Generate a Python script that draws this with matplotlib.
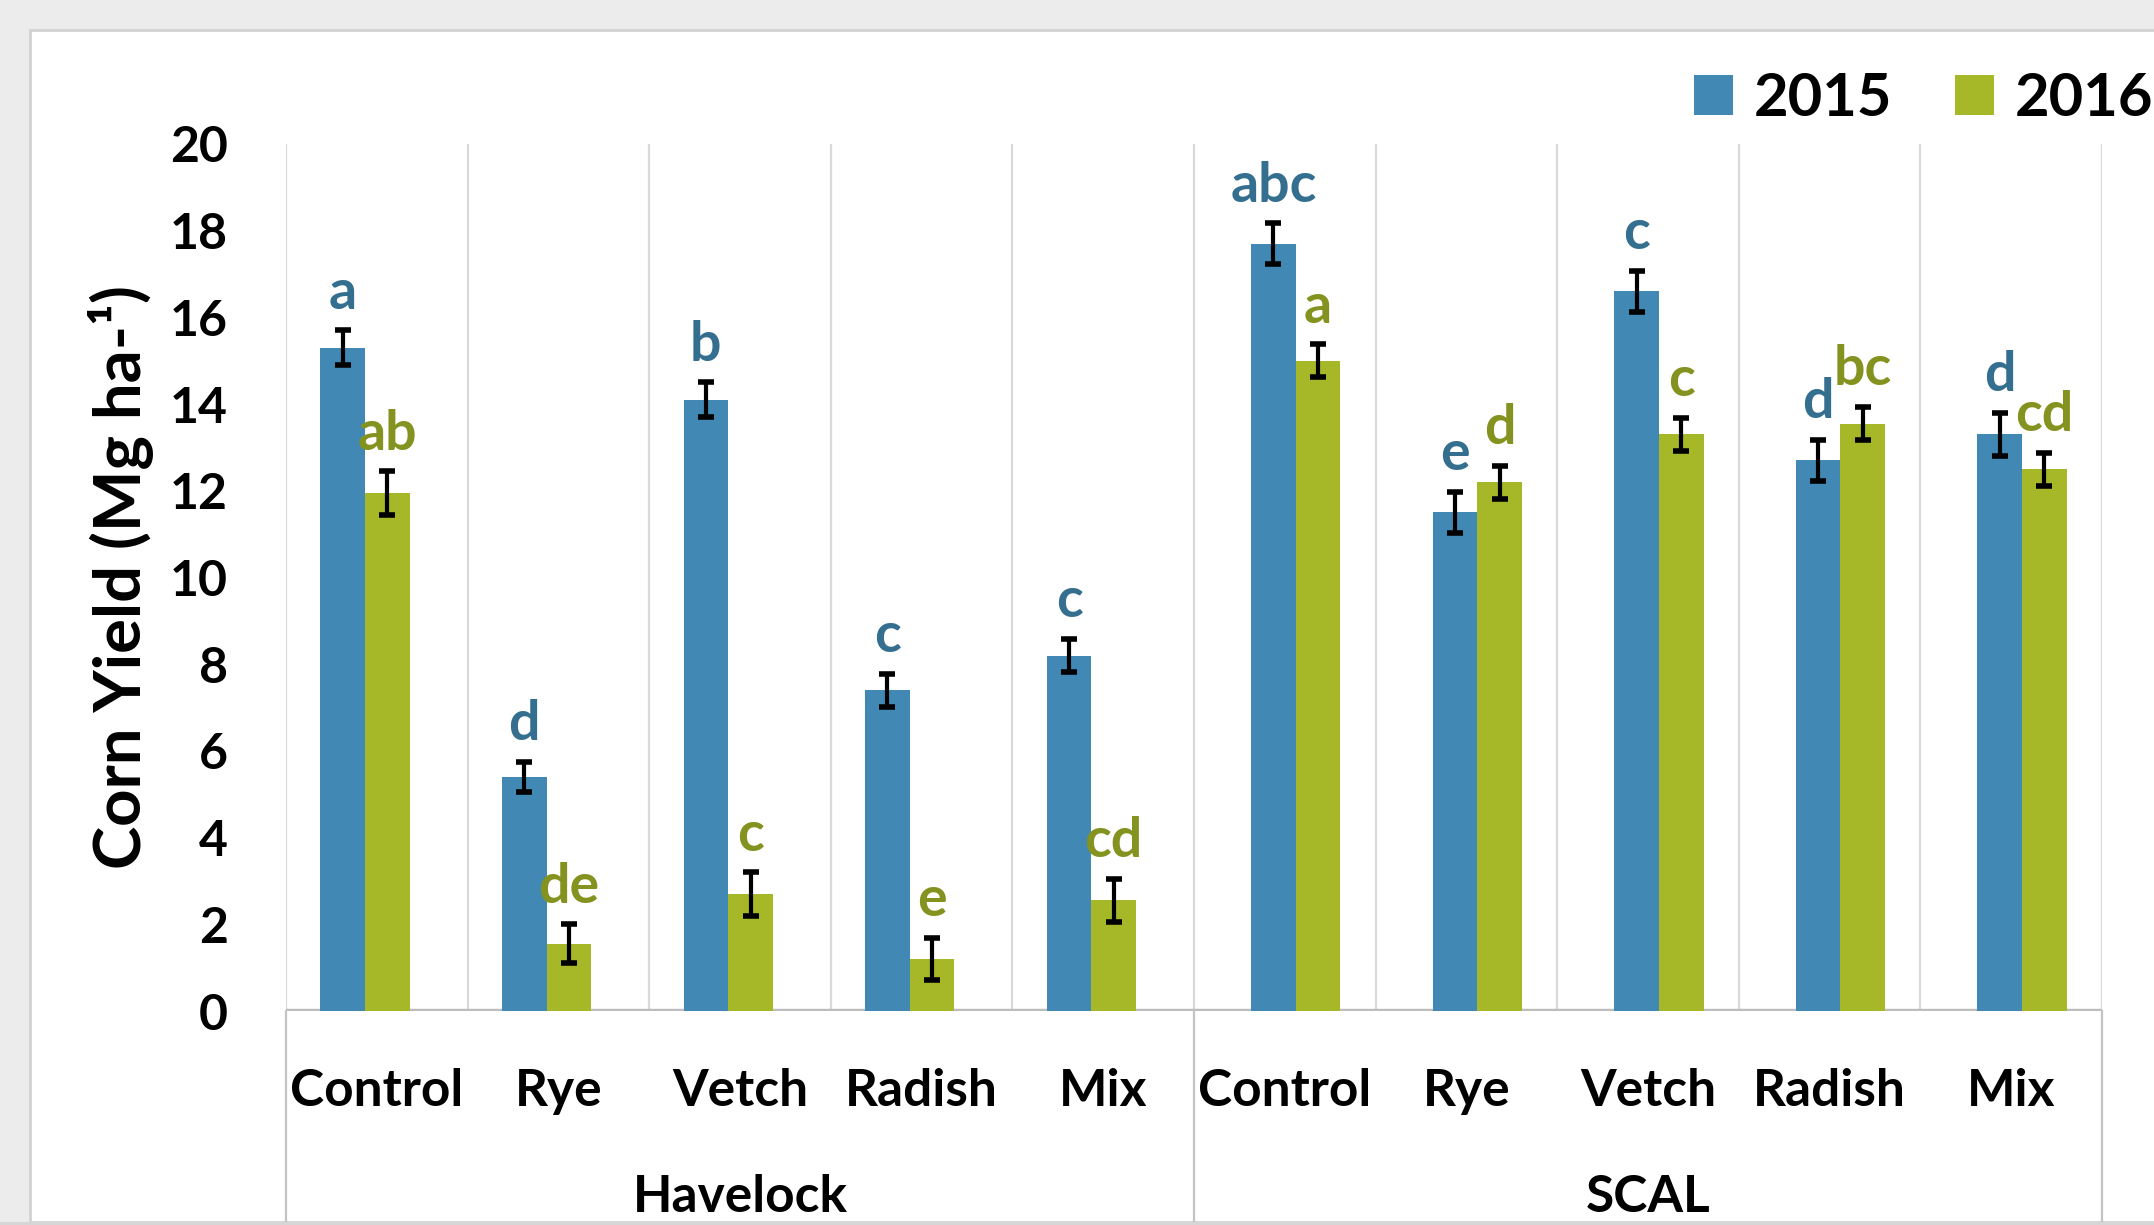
import matplotlib.pyplot as plt
import numpy as np
from matplotlib.patches import Rectangle

plt.rcParams['font.family'] = ['Lato', 'DejaVu Sans']
plt.rcParams['font.weight'] = 'bold'

sites = ["Havelock", "SCAL"]
treatments = ["Control", "Rye", "Vetch", "Radish", "Mix"]
yield_2015 = [15.3, 5.4, 14.1, 7.4, 8.2, 17.7, 11.5, 16.6, 12.7, 13.3]
yield_2016 = [11.95, 1.55, 2.7, 1.2, 2.55, 15.0, 12.2, 13.3, 13.55, 12.5]
err_2015 = [0.4, 0.35, 0.4, 0.38, 0.38, 0.47, 0.47, 0.48, 0.47, 0.5]
err_2016 = [0.5, 0.45, 0.5, 0.48, 0.5, 0.38, 0.38, 0.38, 0.38, 0.38]
letters_2015 = ["a", "d", "b", "c", "c", "abc", "e", "c", "d", "d"]
letters_2016 = ["ab", "de", "c", "e", "cd", "a", "d", "c", "bc", "cd"]

blue = '#4189b4'
green = '#a6b727'
blue_txt = '#356f8f'
green_txt = '#84921f'

W, H = 2154, 1225
fig = plt.figure(figsize=(W / 100, H / 100), dpi=100, facecolor='#ececec')
fig.add_artist(Rectangle((30 / W, 3 / H), 1.0, (H - 33) / H, transform=fig.transFigure,
                         facecolor='white', edgecolor='#d2d2d2', lw=2, zorder=-5))

ax = fig.add_axes([286 / W, 1 - 1011 / H, (2102 - 286) / W, (1011 - 144) / H])
ax.patch.set_alpha(0)
for s in ax.spines.values():
    s.set_visible(False)

n = len(yield_2015)
idx = np.arange(n)
shift = np.where(idx < 5, -0.065, 0.06)
x = idx + shift
w = 0.246

ax.vlines(np.arange(-0.5, n, 1), 0, 20, color='#d9d9d9', lw=1.6, zorder=0)
ax.axhline(0, color='#bdbdbd', lw=3.2, zorder=1)
for xb in [-0.5, 4.5, 9.5]:
    ax.plot([xb, xb], [0, -0.3], transform=ax.get_xaxis_transform(), clip_on=False,
            color='#c4c4c4', lw=1.6)

ax.bar(x - w / 2, yield_2015, w, color=blue, label='2015', zorder=2)
ax.bar(x + w / 2, yield_2016, w, color=green, label='2016', zorder=2)
ekw = dict(fmt='none', ecolor='black', elinewidth=3, capsize=6, capthick=4, zorder=3)
ax.errorbar(x - w / 2, yield_2015, yerr=err_2015, **ekw)
ax.errorbar(x + w / 2, yield_2016, yerr=err_2016, **ekw)

for i in range(n):
    ax.text(x[i] - w / 2, yield_2015[i] + err_2015[i] + 0.5, letters_2015[i], ha='center',
            va='baseline', color=blue_txt, fontsize=40, fontweight='bold')
    ax.text(x[i] + w / 2, yield_2016[i] + err_2016[i] + 0.5, letters_2016[i], ha='center',
            va='baseline', color=green_txt, fontsize=40, fontweight='bold')

ax.set_xlim(-0.5, n - 0.5)
ax.set_ylim(0, 20)
ax.set_yticks(np.arange(0, 21, 2))
ax.tick_params(axis='y', length=0, pad=42, labelsize=36)
ax.set_xticks([])

for i, t in enumerate(treatments * 2):
    ax.text(i, -0.093, t, transform=ax.get_xaxis_transform(), ha='center', va='center',
            fontsize=37, fontweight='bold')
for j, s in enumerate(sites):
    ax.text(2 + 5 * j, -0.215, s, transform=ax.get_xaxis_transform(), ha='center',
            va='center', fontsize=37, fontweight='bold')

fig.text(121 / W, 1 - 577 / H, 'Corn Yield (Mg ha-¹)', rotation=90, ha='center', va='center',
         fontsize=47, fontweight='bold')

ax.legend(loc='upper right', bbox_to_anchor=(2153 / W, 1 - 72 / H), bbox_transform=fig.transFigure,
          ncol=2, frameon=False, fontsize=43, handlelength=0.65, handleheight=0.65,
          handletextpad=0.35, columnspacing=1.05, borderaxespad=0, borderpad=0)

fig.add_artist(Rectangle((0, 0), 1, 3 / H, transform=fig.transFigure,
                         facecolor='#d6d6d6', edgecolor='none', zorder=20))

fig.savefig('out.png', dpi=100, facecolor=fig.get_facecolor())
